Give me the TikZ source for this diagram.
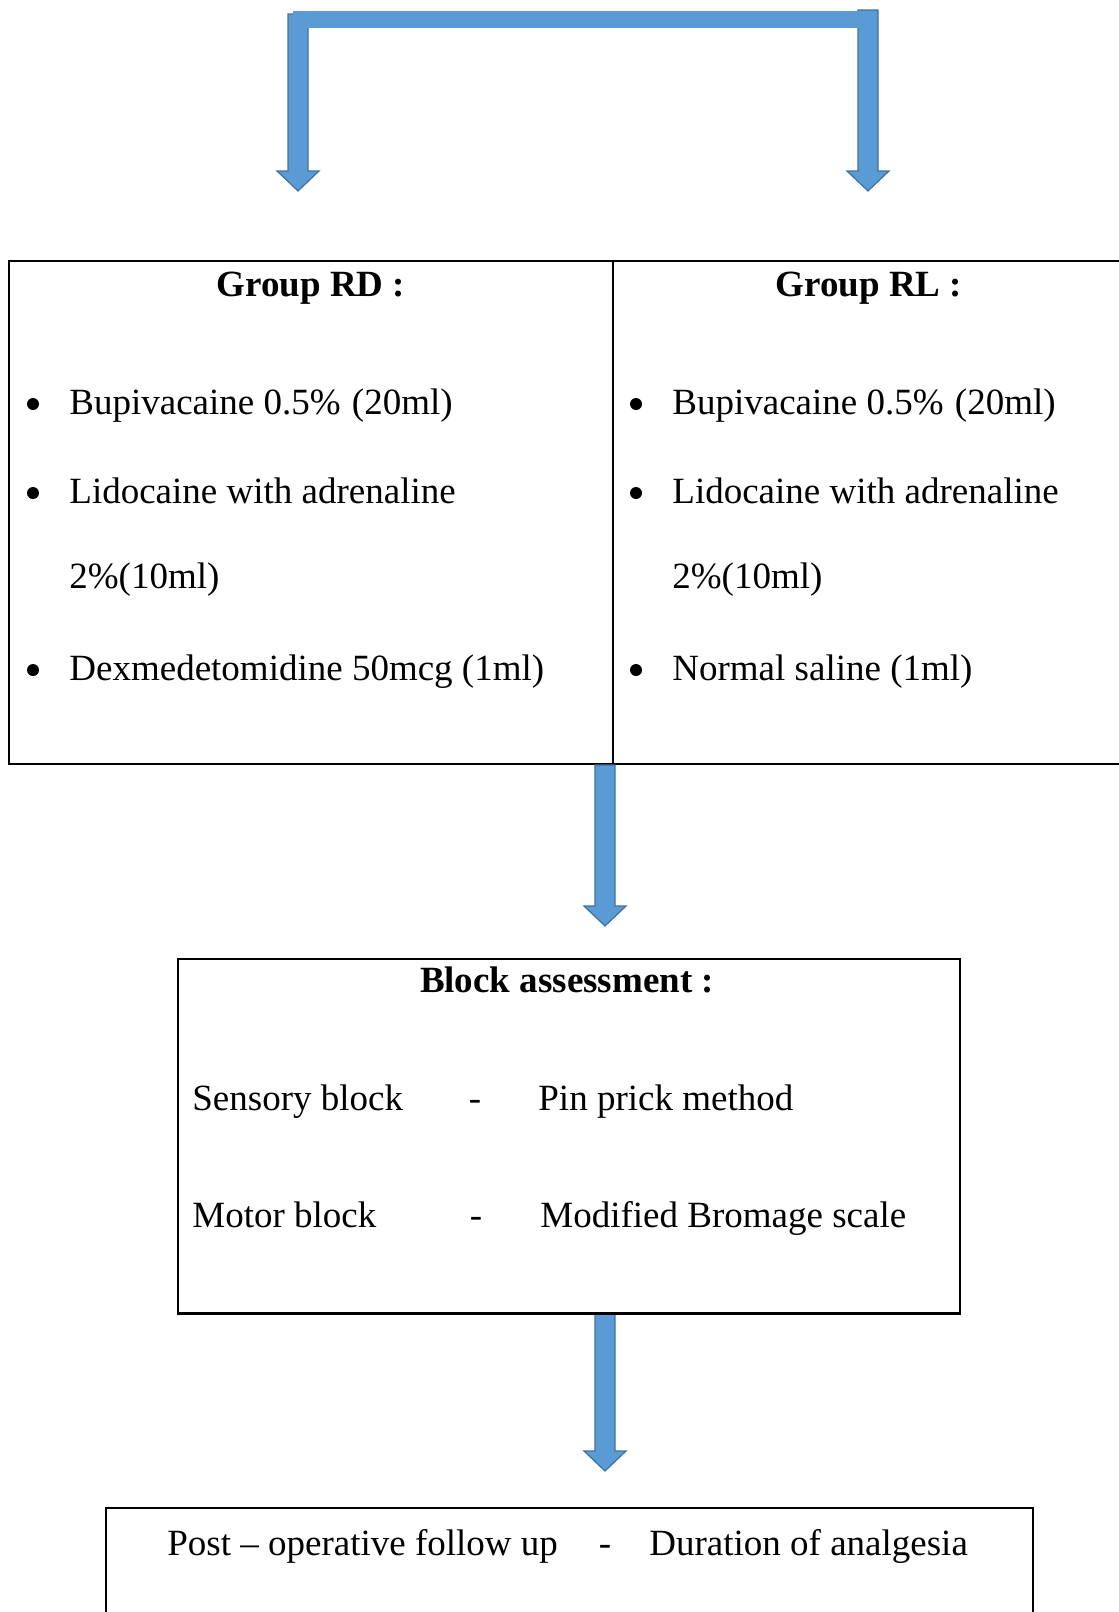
\documentclass[tikz,border=0pt]{standalone}
\usepackage{fontspec}
\setmainfont{Liberation Serif}
\usetikzlibrary{calc}
\definecolor{arrowfill}{HTML}{5B9BD5}
\definecolor{arrowline}{HTML}{41719C}
\tikzset{
  cell/.style={draw, line width=1pt, inner sep=0pt, anchor=north west},
  txt/.style={inner sep=0pt, anchor=base west},
  ttl/.style={inner sep=0pt, anchor=base, font=\fontsize{18.5}{22}\selectfont\bfseries},
  sepmark/.style={inner sep=0pt, anchor=base},
  dot/.style={circle, fill, inner sep=0pt, minimum size=6pt},
  blockarrow/.style={fill=arrowfill, draw=arrowline, line width=0.6pt, line join=miter}
}
% block arrow pointing down, from #1 to the tip #2
\newcommand{\blockdown}[2]{%
  \filldraw[blockarrow] ($(#1)+(-10,0)$) -- ($(#2)+(-10,-20)$) -- ($(#2)+(-21,-20)$)
    -- (#2) -- ($(#2)+(21,-20)$) -- ($(#2)+(10,-20)$) -- ($(#1)+(10,0)$) -- cycle;}
\begin{document}
\begin{tikzpicture}[x=0.5pt, y=-0.5pt, font=\fontsize{18.5}{22}\selectfont]
\useasboundingbox (0,0) rectangle (1119,1612);
\clip (0,0) rectangle (1119,1612);

% split at the top
\coordinate (ltop) at (298,14);
\coordinate (ltip) at (298,191);
\coordinate (rtop) at (868,10);
\coordinate (rtip) at (868,191);
\blockdown{ltop}{ltip}
\blockdown{rtop}{rtip}
\fill[arrowfill] (293,11) rectangle (876,28);

% the two groups
\node[cell, minimum width=302pt, minimum height=251.5pt] (rd) at (8,260) {};
\node[cell, minimum width=256.5pt, minimum height=251.5pt] (rl) at (612,260) {};

\node[ttl] (rdtitle) at (311,296) {Group RD :};
\node[dot] (rdb1) at (33,404) {};
\node[txt] (rd1) at (69,414) {Bupivacaine 0.5\% \hspace{1pt}(20ml)};
\node[dot] (rdb2) at (33,493) {};
\node[txt] (rd2) at (69,503) {Lidocaine with adrenaline};
\node[txt] (rd3) at (69,588) {2\%(10ml)};
\node[dot] (rdb3) at (33,670) {};
\node[txt] (rd4) at (69,680) {Dexmedetomidine 50mcg (1ml)};

\node[ttl] (rltitle) at (869,296) {Group RL :};
\node[dot] (rlb1) at (636,404) {};
\node[txt] (rl1) at (672,414) {Bupivacaine 0.5\% \hspace{1pt}(20ml)};
\node[dot] (rlb2) at (636,493) {};
\node[txt] (rl2) at (672,503) {Lidocaine with adrenaline};
\node[txt] (rl3) at (672,588) {2\%(10ml)};
\node[dot] (rlb3) at (636,670) {};
\node[txt] (rl4) at (672,680) {Normal saline (1ml)};

% block assessment
\coordinate (mtip) at (605,926);
\coordinate (mtop) at (rd.south east -| mtip);
\blockdown{mtop}{mtip}

\node[cell, minimum width=391pt, minimum height=177pt] (block) at (177,958) {};
\node[ttl] (blocktitle) at (567,992) {Block assessment :};
\node[txt] (sens) at (192,1110) {Sensory block};
\node[sepmark] (sensdash) at (475,1110) {-};
\node[txt] (pin) at (538,1110) {Pin prick method};
\node[txt] (motor) at (192,1227) {Motor block};
\node[sepmark] (motordash) at (476,1227) {-};
\node[txt] (brom) at (540,1227) {Modified Bromage scale};

% follow up
\coordinate (ftip) at (605,1471);
\coordinate (ftop) at (block.south -| ftip);
\blockdown{ftop}{ftip}
\draw[line width=1pt] (block.south west) -- (block.south east);

\node[cell, minimum width=463.5pt, minimum height=76.5pt] (post) at (105,1507) {};
\node[txt] (postop) at (167,1555) {Post -- operative follow up};
\node[sepmark] (postdash) at (605,1555) {-};
\node[txt] (dur) at (649,1555) {Duration of analgesia};
\end{tikzpicture}
\end{document}
